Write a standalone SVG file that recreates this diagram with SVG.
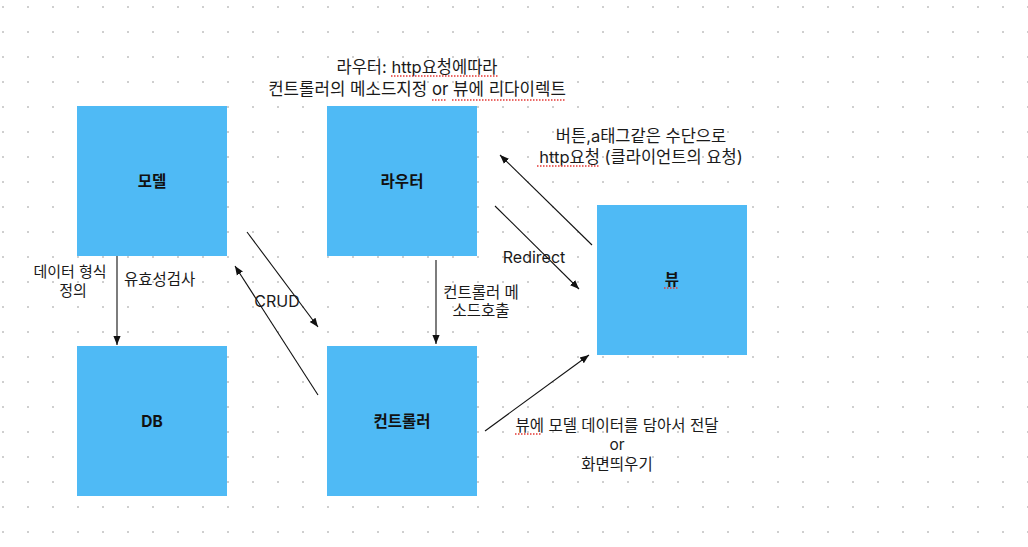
<svg xmlns="http://www.w3.org/2000/svg" width="1028" height="547" viewBox="0 0 1028 547">
<style>
.t{font-family:"Inter","Noto Sans CJK KR",sans-serif;font-size:15.5px;fill:#1a1a1a}
.m{text-anchor:middle}
.b{font-weight:bold;font-size:15.5px;fill:#111}
.box{fill:#4fbaf5}
.c{stroke:#111;stroke-width:1.1;fill:none}
.sq{stroke:#e53935;stroke-width:1.3;stroke-dasharray:1.5 1.5;fill:none}
</style>
<defs>
<pattern id="dots" x="0" y="0" width="25" height="25" patternUnits="userSpaceOnUse">
<rect x="2" y="6" width="2" height="2" fill="#cfcfcf"/>
</pattern>
<marker id="ah" viewBox="0 0 10 10" refX="10" refY="5" markerWidth="9" markerHeight="9" markerUnits="userSpaceOnUse" orient="auto">
<path d="M0,1 L10,5 L0,9 z" fill="#111"/>
</marker>
</defs>
<rect x="0" y="0" width="1028" height="547" fill="#ffffff"/>
<rect x="0" y="0" width="1028" height="547" fill="url(#dots)"/>

<g id="node-model"><rect class="box" x="77" y="106" width="150" height="150"/><text class="t m b" x="152" y="187">모델</text></g>
<g id="node-router"><rect class="box" x="327" y="106" width="150" height="150"/><text class="t m b" x="402" y="187">라우터</text></g>
<g id="node-db"><rect class="box" x="77" y="346" width="150" height="150"/><text class="t m b" x="152" y="427">DB</text></g>
<g id="node-controller"><rect class="box" x="327" y="346" width="150" height="150"/><text class="t m b" x="402" y="427">컨트롤러</text></g>
<g id="node-view"><rect class="box" x="597" y="205" width="150" height="150"/><text class="t m b" x="672" y="285">뷰</text></g>

<g id="connectors">
<line class="c" x1="117" y1="256" x2="117" y2="345" marker-end="url(#ah)"/>
<line class="c" x1="436" y1="260" x2="436" y2="344" marker-end="url(#ah)"/>
<line class="c" x1="247" y1="232" x2="318" y2="327" marker-end="url(#ah)"/>
<line class="c" x1="318" y1="395" x2="235" y2="266" marker-end="url(#ah)"/>
<line class="c" x1="592" y1="245" x2="500" y2="155" marker-end="url(#ah)"/>
<line class="c" x1="495" y1="206" x2="579" y2="289" marker-end="url(#ah)"/>
<line class="c" x1="485" y1="431" x2="589" y2="355" marker-end="url(#ah)"/>
</g>

<g id="labels">
<text class="t m" x="417" y="73" style="font-size:16.5px">라우터: http요청에따라</text>
<text class="t m" x="417" y="95" style="font-size:16.8px">컨트롤러의 메소드지정 or 뷰에 리다이렉트</text>
<text class="t m" x="641" y="142" style="font-size:16.5px">버튼,a태그같은 수단으로</text>
<text class="t m" x="641" y="163" style="font-size:16.5px">http요청 (클라이언트의 요청)</text>
<text class="t m" x="534" y="263" style="font-size:16px">Redirect</text>
<text class="t m" x="70" y="277" style="font-size:15px">데이터 형식</text>
<text class="t m" x="73" y="296" style="font-size:15px">정의</text>
<text class="t" x="124" y="285">유효성검사</text>
<text class="t m" x="277" y="307" style="font-size:16px">CRUD</text>
<text class="t m" x="481" y="298">컨트롤러 메</text>
<text class="t m" x="481" y="316">소드호출</text>
<text class="t m" x="617" y="431">뷰에 모델 데이터를 담아서 전달</text>
<text class="t m" x="617" y="450">or</text>
<text class="t m" x="617" y="470">화면띄우기</text>
</g>

<g id="spellcheck">
<line class="sq" x1="391" y1="76" x2="498" y2="76"/>
<line class="sq" x1="432" y1="100" x2="447" y2="100"/>
<line class="sq" x1="452" y1="100" x2="565" y2="100"/>
<line class="sq" x1="537" y1="166" x2="599" y2="166"/>
<line class="sq" x1="664" y1="288" x2="679" y2="288"/>
<line class="sq" x1="515" y1="434" x2="541" y2="434"/>
</g>
</svg>
